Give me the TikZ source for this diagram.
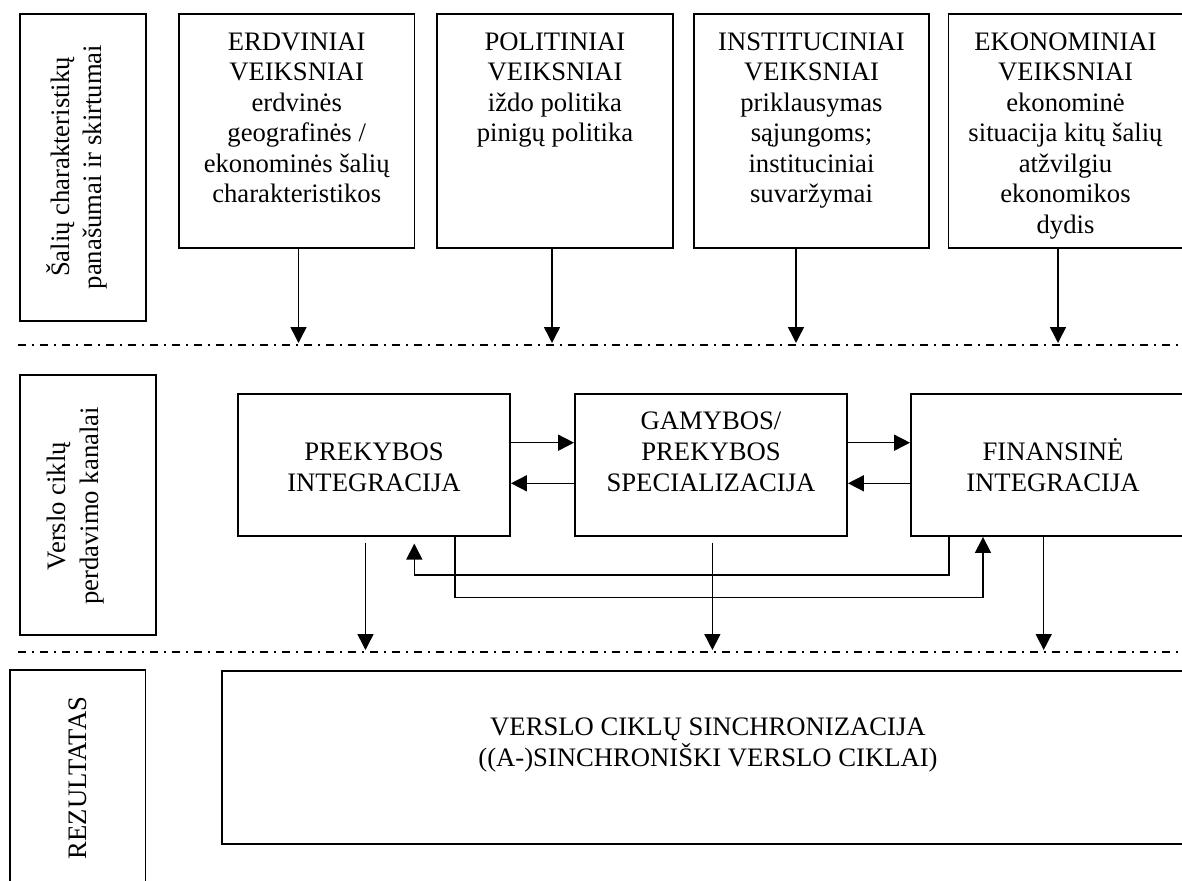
\documentclass[tikz,border=0pt]{standalone}
\usepackage{fontspec}
\setmainfont{Liberation Serif}
\usetikzlibrary{arrows.meta,fit}
\begin{document}
\begin{tikzpicture}[x=0.75pt,y=-0.75pt,
  box/.style={draw, line width=1.4pt, inner sep=0pt},
  % multi-line text is anchored at the baseline of its last line
  txt/.style={align=center, inner sep=0pt, anchor=base, font=\fontsize{20}{22.9}\selectfont},
  side/.style={align=center, inner sep=0pt, rotate=90, font=\fontsize{20}{24.4}\selectfont},
  arr/.style={line width=1.15pt, -{Triangle[length=12pt,width=12pt]}},
  sepline/.style={line width=1.2pt, dash pattern=on 6pt off 4.5pt on 1.5pt off 4.5pt}]

\useasboundingbox (0,0) rectangle (1182,881);
\clip (0,0) rectangle (1182,881);

% ---- row 1: country characteristics ----
\node[box, fit={(20,14) (146,321)}] (lab1) {};
\node[side] (lab1t) at (77,167) {Šalių charakteristikų\\panašumai ir skirtumai};

\node[box, fit={(179,14) (414.5,248)}] (erd) {};
\node[box, fit={(437,14) (673,248)}] (pol) {};
\node[box, fit={(694,14) (929,248)}] (ins) {};
\node[box, fit={(948.5,14) (1186,248)}] (eko) {};

\node[txt] (erdt) at (296.7,202.7) {ERDVINIAI\\VEIKSNIAI\\erdvinės\\geografinės /\\ekonominės šalių\\charakteristikos};
\node[txt] (polt) at (555,141.6) {POLITINIAI\\VEIKSNIAI\\iždo politika\\pinigų politika};
\node[txt] (inst) at (811.5,202.7) {INSTITUCINIAI\\VEIKSNIAI\\priklausymas\\sąjungoms;\\instituciniai\\suvaržymai};
\node[txt] (ekot) at (1065.5,233.2) {EKONOMINIAI\\VEIKSNIAI\\ekonominė\\situacija kitų šalių\\atžvilgiu\\ekonomikos\\dydis};

\coordinate (t1) at (298.5,343);
\coordinate (t2) at (552,343);
\coordinate (t3) at (796,343);
\coordinate (t4) at (1058,343);
\draw[arr] (erd.south -| t1) -- (t1);
\draw[arr] (pol.south -| t2) -- (t2);
\draw[arr] (ins.south -| t3) -- (t3);
\draw[arr] (eko.south -| t4) -- (t4);

\draw[sepline] (18,345) -- (1190,345);

% ---- row 2: transmission channels ----
\node[box, fit={(20,374.7) (156,635)}] (lab2) {};
\node[side] (lab2t) at (75.5,506) {Verslo ciklų\\perdavimo kanalai};

\node[box, fit={(237.7,393.7) (510,536)}] (prek) {};
\node[box, fit={(575,393.7) (847,536)}] (gam) {};
\node[box, fit={(911,393.7) (1195,536)}] (fin) {};

\node[txt] (prekt) at (374,491) {PREKYBOS\\INTEGRACIJA};
\node[txt] (gamt) at (711,491) {GAMYBOS/\\PREKYBOS\\SPECIALIZACIJA};
\node[txt] (fint) at (1053,491) {FINANSINĖ\\INTEGRACIJA};

\coordinate (hu) at (0,442.7);
\coordinate (hl) at (0,483.3);
\draw[arr] (prek.east |- hu) -- (gam.west |- hu);
\draw[arr] (gam.west |- hl) -- (prek.east |- hl);
\draw[arr] (gam.east |- hu) -- (fin.west |- hu);
\draw[arr] (fin.west |- hl) -- (gam.east |- hl);

% feedback loops below the boxes
\coordinate (f1) at (949,575);
\coordinate (f1b) at (414.3,575);
\draw[arr] (fin.south -| f1) -- (f1) -- (f1b) -- ([yshift=-5pt]prek.south -| f1b);
\coordinate (f2) at (455,597.3);
\coordinate (f2b) at (983,597.3);
\draw[arr] (prek.south -| f2) -- (f2) -- (f2b) -- (fin.south -| f2b);

\coordinate (m1) at (365.5,650);
\coordinate (m2) at (712.4,650);
\coordinate (m3) at (1043.7,650);
\draw[arr] ([yshift=-4.3pt]prek.south -| m1) -- (m1);
\draw[arr] ([yshift=-4.3pt]gam.south -| m2) -- (m2);
\draw[arr] (fin.south -| m3) -- (m3);

\draw[sepline] (18,652) -- (1190,652);

% ---- row 3: result ----
\node[box, fit={(10,670) (145.5,890)}] (lab3) {};
\node[side] (lab3t) at (78,778) {REZULTATAS};

\node[box, fit={(222,670.7) (1195,844)}] (res) {};
\node[txt] (rest) at (708,766.5) {VERSLO CIKLŲ SINCHRONIZACIJA\\((A-)SINCHRONIŠKI VERSLO CIKLAI)};

\end{tikzpicture}
\end{document}
